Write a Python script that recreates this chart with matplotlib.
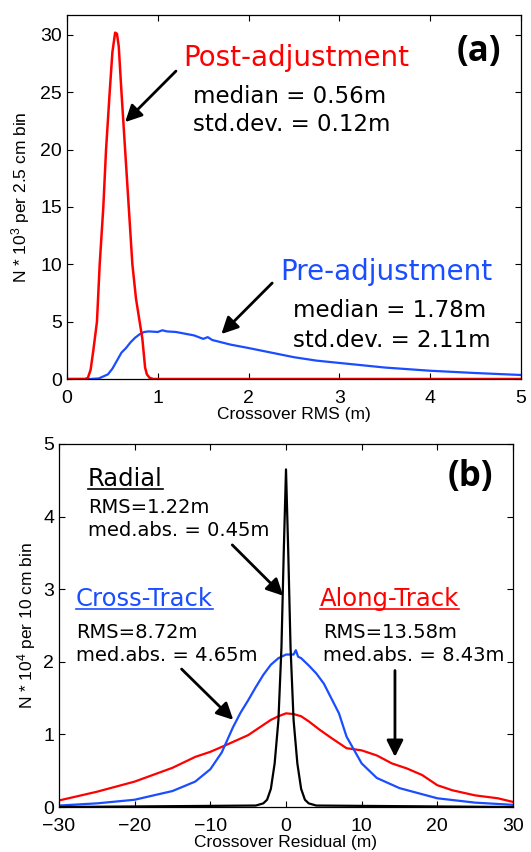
import matplotlib
matplotlib.use('Agg')
import matplotlib.pyplot as plt
from matplotlib.lines import Line2D

plt.rcParams['font.family'] = ['Liberation Sans', 'DejaVu Sans']
plt.rcParams['mathtext.default'] = 'regular'

RED = '#ff0000'
BLUE = '#1a4dff'
ANN_FONT = 'DejaVu Sans'

# panel (a): crossover RMS histograms (N * 10^3 per 2.5 cm bin)
post_x = [0, 0.2, 0.23, 0.26, 0.29, 0.33, 0.36, 0.40, 0.43, 0.47, 0.50, 0.53, 0.55,
          0.57, 0.60, 0.64, 0.68, 0.72, 0.76, 0.80, 0.83, 0.86, 0.88, 0.91, 0.95, 1.0, 5.0]
post_y = [0, 0, 0.1, 0.8, 2.5, 5, 10, 15, 20, 25, 28.5, 30.2, 30.1,
          29, 25, 20, 15, 10, 7, 5, 3.5, 1, 0.4, 0.1, 0, 0, 0]

pre_x = [0, 0.25, 0.35, 0.45, 0.5, 0.55, 0.6, 0.65, 0.7, 0.75, 0.8, 0.85, 0.9, 1.0, 1.05,
         1.1, 1.2, 1.4, 1.5, 1.55, 1.6, 1.8, 2.0, 2.25, 2.5, 2.75, 3.0, 3.5, 4.0, 4.5, 5.0]
pre_y = [0, 0, 0.05, 0.4, 0.9, 1.6, 2.3, 2.7, 3.2, 3.6, 3.9, 4.1, 4.15, 4.1, 4.25,
         4.15, 4.1, 3.8, 3.5, 3.65, 3.4, 3.0, 2.7, 2.3, 1.9, 1.6, 1.4, 1.0, 0.72, 0.52, 0.35]

# panel (b): crossover residual histograms (N * 10^4 per 10 cm bin)
radial_x = [-30, -4, -3, -2.5, -2, -1.5, -1, -0.6, -0.3, 0, 0.3, 0.6, 1, 1.5, 2, 2.5, 3, 4, 30]
radial_y = [0, 0.02, 0.05, 0.1, 0.25, 0.6, 1.2, 2.2, 3.5, 4.65, 3.5, 2.2, 1.2, 0.6, 0.25, 0.1, 0.05, 0.02, 0]

cross_x = [-30, -25, -20, -15, -12, -10, -8.5, -7, -6, -5, -4, -3, -2, -1, 0, 1, 1.3, 1.6,
           2, 3, 4, 5, 7, 8, 10, 12, 15, 20, 25, 30]
cross_y = [0.02, 0.05, 0.1, 0.22, 0.35, 0.52, 0.75, 1.1, 1.3, 1.47, 1.65, 1.82, 1.96, 2.05, 2.1,
           2.1, 2.16, 2.07, 2.05, 1.95, 1.84, 1.7, 1.29, 0.97, 0.6, 0.4, 0.26, 0.12, 0.06, 0.03]

along_x = [-30, -25, -20, -15, -12, -10, -8, -5, -3, -2, -1, 0, 1, 2, 3, 4.5, 6, 8, 10,
           12, 14, 16, 18, 19, 20, 22, 25, 28, 30]
along_y = [0.09, 0.21, 0.35, 0.54, 0.69, 0.76, 0.85, 0.99, 1.13, 1.2, 1.25, 1.29, 1.28, 1.25,
           1.18, 1.06, 0.95, 0.81, 0.78, 0.71, 0.6, 0.53, 0.44, 0.37, 0.3, 0.23, 0.16, 0.12, 0.07]

fig = plt.figure(figsize=(5.31, 8.52), dpi=100)
ax1 = fig.add_axes([67 / 531, 1 - 379 / 852, 454 / 531, 364 / 852])
ax2 = fig.add_axes([59 / 531, 1 - 807 / 852, 454 / 531, 363 / 852])

for ax in (ax1, ax2):
    ax.tick_params(direction='in', top=True, right=True, labelsize=14, length=4, width=0.8)
    ax.tick_params(axis='x', pad=8)
    for s in ax.spines.values():
        s.set_linewidth(0.9)

# ---- (a)
ax1.plot(pre_x, pre_y, color=BLUE, lw=1.6)
ax1.plot(post_x, post_y, color=RED, lw=1.8)
ax1.set_xlim(0, 5)
ax1.set_ylim(0, 31.74)
ax1.set_xticks([0, 1, 2, 3, 4, 5])
ax1.set_yticks([0, 5, 10, 15, 20, 25, 30])
ax1.set_xlabel('Crossover RMS (m)', fontsize=12.5, labelpad=0)
ax1.set_ylabel('N * 10$^3$ per 2.5 cm bin', fontsize=12.5, labelpad=6)

ax1.text(0.256, 0.882, 'Post-adjustment', color=RED, fontsize=20, family=ANN_FONT,
         transform=ax1.transAxes, va='center')
ax1.text(0.278, 0.777, 'median = 0.56m', fontsize=16.5, family=ANN_FONT,
         transform=ax1.transAxes, va='center')
ax1.text(0.278, 0.698, 'std.dev. = 0.12m', fontsize=16.5, family=ANN_FONT,
         transform=ax1.transAxes, va='center')
ax1.text(0.469, 0.294, 'Pre-adjustment', color=BLUE, fontsize=20, family=ANN_FONT,
         transform=ax1.transAxes, va='center')
ax1.text(0.498, 0.187, 'median = 1.78m', fontsize=16.5, family=ANN_FONT,
         transform=ax1.transAxes, va='center')
ax1.text(0.498, 0.107, 'std.dev. = 2.11m', fontsize=16.5, family=ANN_FONT,
         transform=ax1.transAxes, va='center')
ax1.text(0.859, 0.898, '(a)', fontsize=25, fontweight='bold', family='Open Sans',
         transform=ax1.transAxes, va='center')

arrow = dict(arrowstyle='-|>,head_length=0.5,head_width=0.25', color='black', lw=2,
             mutation_scale=20, shrinkA=0, shrinkB=0)
ax1.annotate('', xy=(0.64, 22.4), xytext=(1.20, 26.85), arrowprops=arrow)
ax1.annotate('', xy=(1.70, 3.92), xytext=(2.26, 8.37), arrowprops=arrow)

# ---- (b)
ax2.plot(along_x, along_y, color=RED, lw=1.6)
ax2.plot(cross_x, cross_y, color=BLUE, lw=1.6)
ax2.plot(radial_x, radial_y, color='black', lw=1.6)
ax2.set_xlim(-30, 30)
ax2.set_ylim(0, 5)
ax2.set_xticks([-30, -20, -10, 0, 10, 20, 30])
ax2.set_xticklabels(['\u221230', '\u221220', '\u221210', '0', '10', '20', '30'])
ax2.set_yticks([0, 1, 2, 3, 4, 5])
ax2.set_xlabel('Crossover Residual (m)', fontsize=12.5, labelpad=0)
ax2.set_ylabel('N * 10$^4$ per 10 cm bin', fontsize=12.5, labelpad=4)

heads = [
    (0.064, 0.885, 'Radial', 'black'),
    (0.037, 0.554, 'Cross-Track', BLUE),
    (0.575, 0.554, 'Along-Track', RED),
]
head_texts = []
for x, y, s, c in heads:
    t = ax2.text(x, y, s, color=c, fontsize=17.5, family=ANN_FONT,
                 transform=ax2.transAxes, va='baseline')
    head_texts.append((t, x, y, c))

stats = [
    (0.064, 0.826, 'RMS=1.22m'), (0.064, 0.763, 'med.abs. = 0.45m'),
    (0.037, 0.482, 'RMS=8.72m'), (0.037, 0.416, 'med.abs. = 4.65m'),
    (0.581, 0.482, 'RMS=13.58m'), (0.581, 0.416, 'med.abs. = 8.43m'),
]
for x, y, s in stats:
    ax2.text(x, y, s, fontsize=14, family=ANN_FONT, transform=ax2.transAxes, va='center')
ax2.text(0.855, 0.909, '(b)', fontsize=25, fontweight='bold', family='Open Sans',
         transform=ax2.transAxes, va='center')

ax2.annotate('', xy=(-0.37, 2.91), xytext=(-7.1, 3.61), arrowprops=arrow)
ax2.annotate('', xy=(-6.97, 1.20), xytext=(-13.8, 1.90), arrowprops=arrow)
ax2.annotate('', xy=(14.4, 0.69), xytext=(14.4, 1.88), arrowprops=arrow)

# underline the panel (b) headings
fig.canvas.draw()
renderer = fig.canvas.get_renderer()
W, H = fig.bbox.width, fig.bbox.height
for t, x, y, c in head_texts:
    bb = t.get_window_extent(renderer)
    base = ax2.transAxes.transform((x, y))[1] - 3
    fig.add_artist(Line2D([bb.x0 / W, bb.x1 / W], [base / H, base / H],
                          transform=fig.transFigure, color=c, lw=1.2))

fig.savefig('out.png', dpi=100)
